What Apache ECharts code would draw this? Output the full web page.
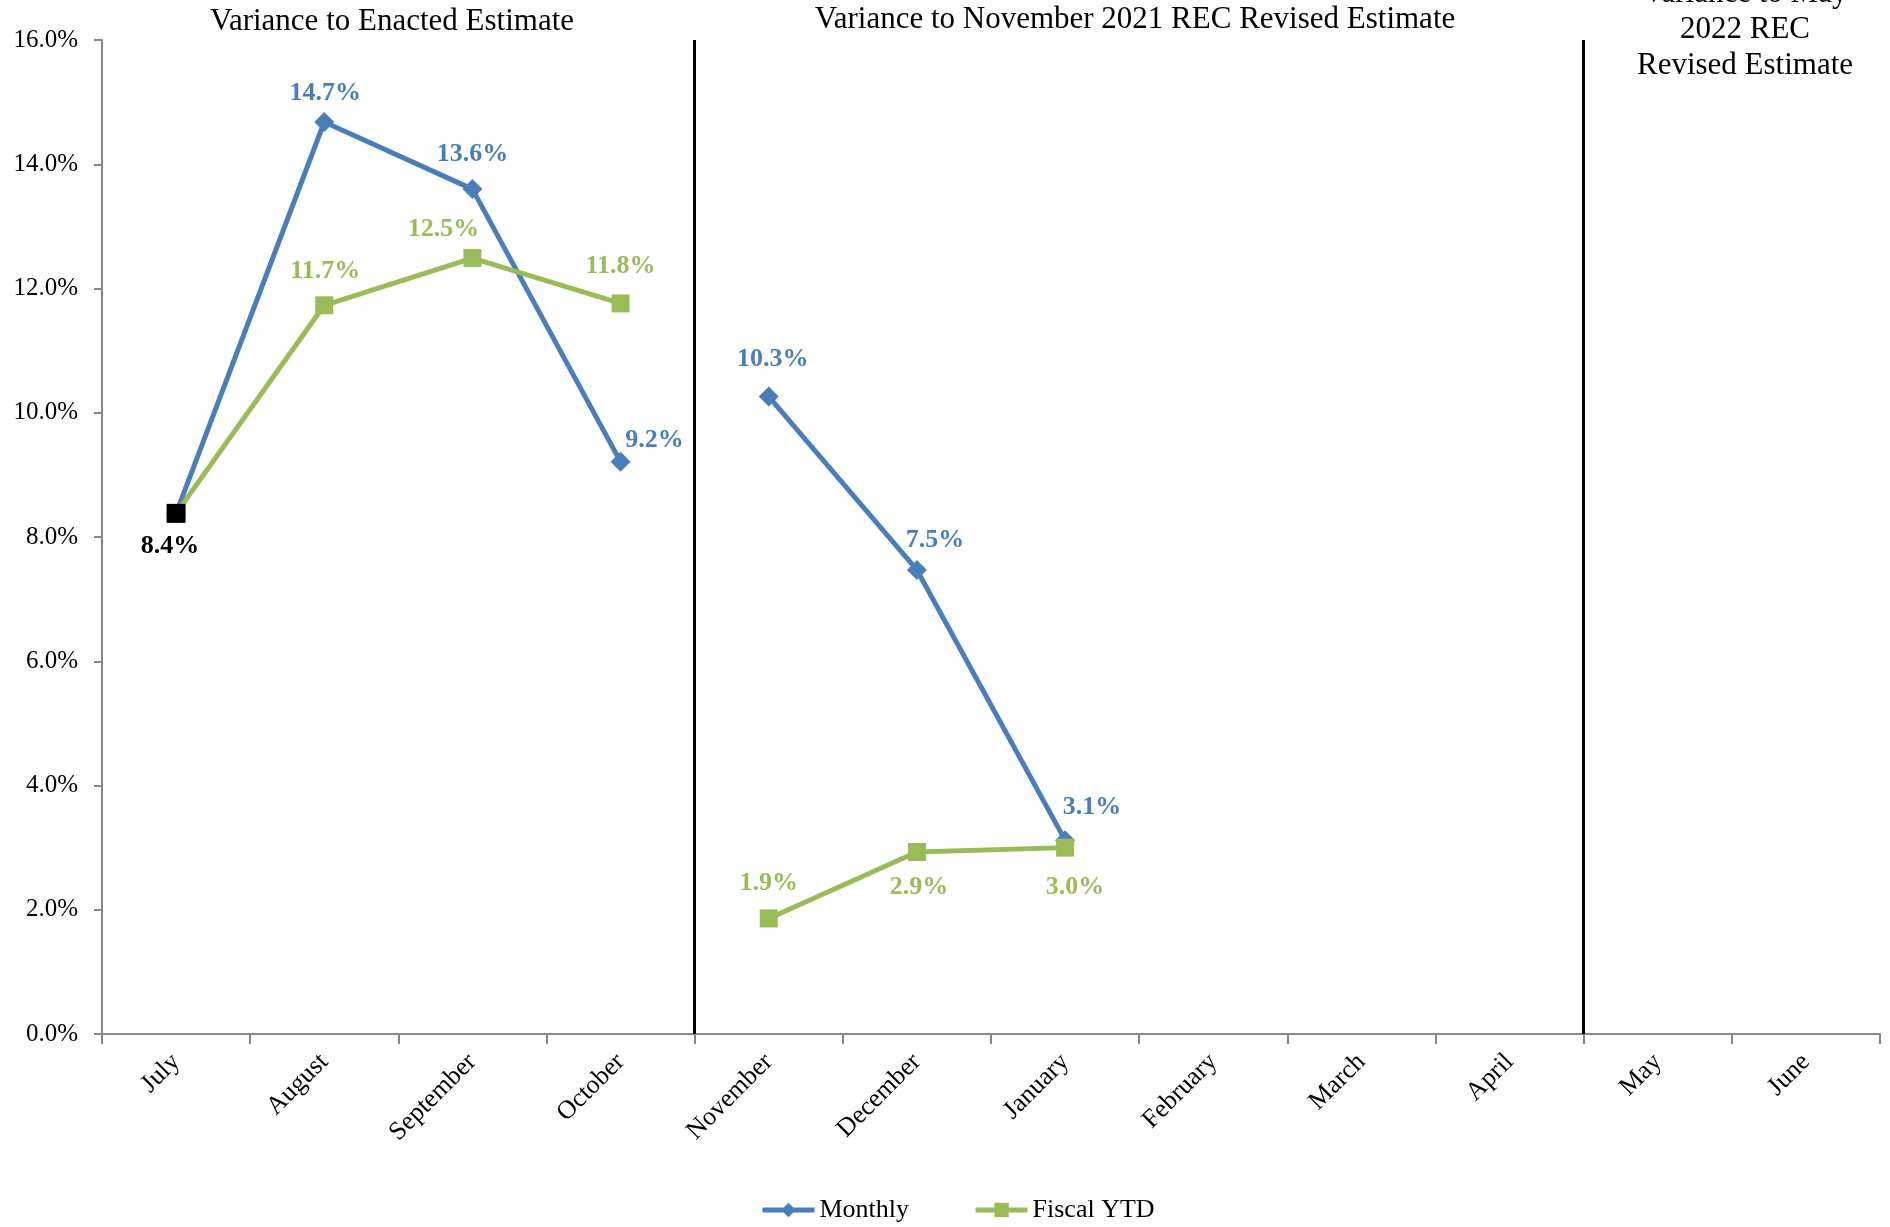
<!DOCTYPE html>
<html>
<head>
<meta charset="utf-8">
<script src="https://cdn.jsdelivr.net/npm/echarts@6/dist/echarts.min.js"></script>
<style>
    html, body { margin: 0; padding: 0; background: #fff; }
    #main { width: 1890px; height: 1227px; }
</style>
</head>
<body>
<div id="main"></div>
<script>
// chart data
var months = ['July', 'August', 'September', 'October', 'November', 'December',
    'January', 'February', 'March', 'April', 'May', 'June'];
var monthly = [8.38, 14.68, 13.60, 9.21, 10.26, 7.47, 3.12, null, null, null, null, null];
var fiscalYtd = [8.38, 11.73, 12.49, 11.76, 1.86, 2.93, 3.00, null, null, null, null, null];
var yMin = 0, yMax = 16, yStep = 2;
var sectionStarts = [0, 4, 10]; // index where each estimate period begins
var sectionTitles = ['Variance to Enacted Estimate',
    'Variance to November 2021 REC Revised Estimate',
    'Variance to May\n2022 REC\nRevised Estimate'];

var BLUE = '#4A7EBB', GREEN = '#9BBB59';
var FONT = '"Liberation Serif", "Times New Roman", serif';

// label nudges (px from point centre), by month index
var monthlyNudge = { 1: [1, -29], 2: [0, -35], 3: [34, -22], 4: [4, -37], 5: [18, -30], 6: [27, -33] };
var fiscalNudge = { 0: [-6, 33], 1: [1, -34], 2: [-29, -29], 3: [0, -37], 4: [0, -35], 5: [2, 35], 6: [10, 40] };

// keep only values of one period so the lines break between periods
function segment(values, from, to) {
    return values.map(function (v, i) { return (i >= from && i < to) ? v : null; });
}

function buildPoints(values, nudge, color, from, to, isFiscal) {
    return segment(values, from, to).map(function (v, i) {
        if (v === null) return null;
        var item = { value: v, label: { show: false } };
        if (nudge[i]) {
            item.label = {
                show: true, position: 'inside', offset: nudge[i],
                color: color, fontFamily: FONT, fontWeight: 'bold', fontSize: 26,
                formatter: function (p) { return p.value.toFixed(1) + '%'; }
            };
        }
        if (isFiscal && i === 0) {
            // first month is shared by both measures
            item.symbolSize = 19;
            item.itemStyle = { color: '#000' };
            item.label.color = '#000';
        }
        return item;
    });
}

function lineSeries(name, values, nudge, color, symbol, size, isFiscal) {
    var out = [];
    for (var s = 0; s < sectionStarts.length; s++) {
        var from = sectionStarts[s];
        var to = s + 1 < sectionStarts.length ? sectionStarts[s + 1] : months.length;
        out.push({
            name: name,
            type: 'line',
            data: buildPoints(values, nudge, color, from, to, isFiscal),
            symbol: symbol,
            symbolSize: size,
            showAllSymbol: true,
            lineStyle: { color: color, width: 5 },
            itemStyle: { color: color },
            emphasis: { disabled: true },
            animation: false
        });
    }
    return out;
}

var chart = echarts.init(document.getElementById('main'));

var series = []
    .concat(lineSeries('Monthly', monthly, monthlyNudge, BLUE, 'diamond', 20, false))
    .concat(lineSeries('Fiscal YTD', fiscalYtd, fiscalNudge, GREEN, 'rect', 18, true));

// period separators on a hidden value axis
series.push({
    type: 'line',
    xAxisIndex: 1,
    data: [],
    silent: true,
    animation: false,
    markLine: {
        symbol: 'none',
        silent: true,
        label: { show: false },
        lineStyle: { color: '#000', width: 3, type: 'solid' },
        data: sectionStarts.slice(1).map(function (x) { return { xAxis: x }; })
    }
});

var option = {
    backgroundColor: '#fff',
    animation: false,
    grid: { left: 102, right: 10, top: 40, bottom: 193 },
    legend: {
        data: ['Monthly', 'Fiscal YTD'],
        left: 755,
        top: 1192,
        itemWidth: 52,
        itemHeight: 18,
        itemGap: 64,
        lineStyle: { width: 5 },
        textStyle: { fontFamily: FONT, fontSize: 26, color: '#000' }
    },
    graphic: [
        { type: 'text', x: 392, y: 22, style: { text: sectionTitles[0], font: '31px ' + FONT, fill: '#000', textAlign: 'center', textVerticalAlign: 'middle' } },
        { type: 'text', x: 1135, y: 20, style: { text: sectionTitles[1], font: '31px ' + FONT, fill: '#000', textAlign: 'center', textVerticalAlign: 'middle' } },
        { type: 'text', x: 1745, y: -24, style: { text: sectionTitles[2], font: '31px ' + FONT, lineHeight: 36, fill: '#000', textAlign: 'center', textVerticalAlign: 'top' } }
    ],
    xAxis: [{
        type: 'category',
        data: months,
        boundaryGap: true,
        axisLine: { lineStyle: { color: '#878787', width: 2 } },
        axisTick: { show: true, length: 10, lineStyle: { color: '#878787', width: 2 } },
        axisLabel: {
            interval: 0, rotate: 45, margin: 24,
            fontFamily: FONT, fontSize: 26, color: '#000'
        },
        splitLine: { show: false }
    }, {
        type: 'value',
        min: 0, max: months.length,
        show: false
    }],
    yAxis: {
        type: 'value',
        min: yMin, max: yMax, interval: yStep,
        axisLine: { show: true, lineStyle: { color: '#878787', width: 2 } },
        axisTick: { show: true, length: 8, lineStyle: { color: '#878787', width: 2 } },
        axisLabel: {
            margin: 24, fontFamily: FONT, fontSize: 25, color: '#000',
            formatter: function (v) { return v.toFixed(1) + '%'; }
        },
        splitLine: { show: false }
    },
    series: series
};

chart.setOption(option);
</script>
</body>
</html>
